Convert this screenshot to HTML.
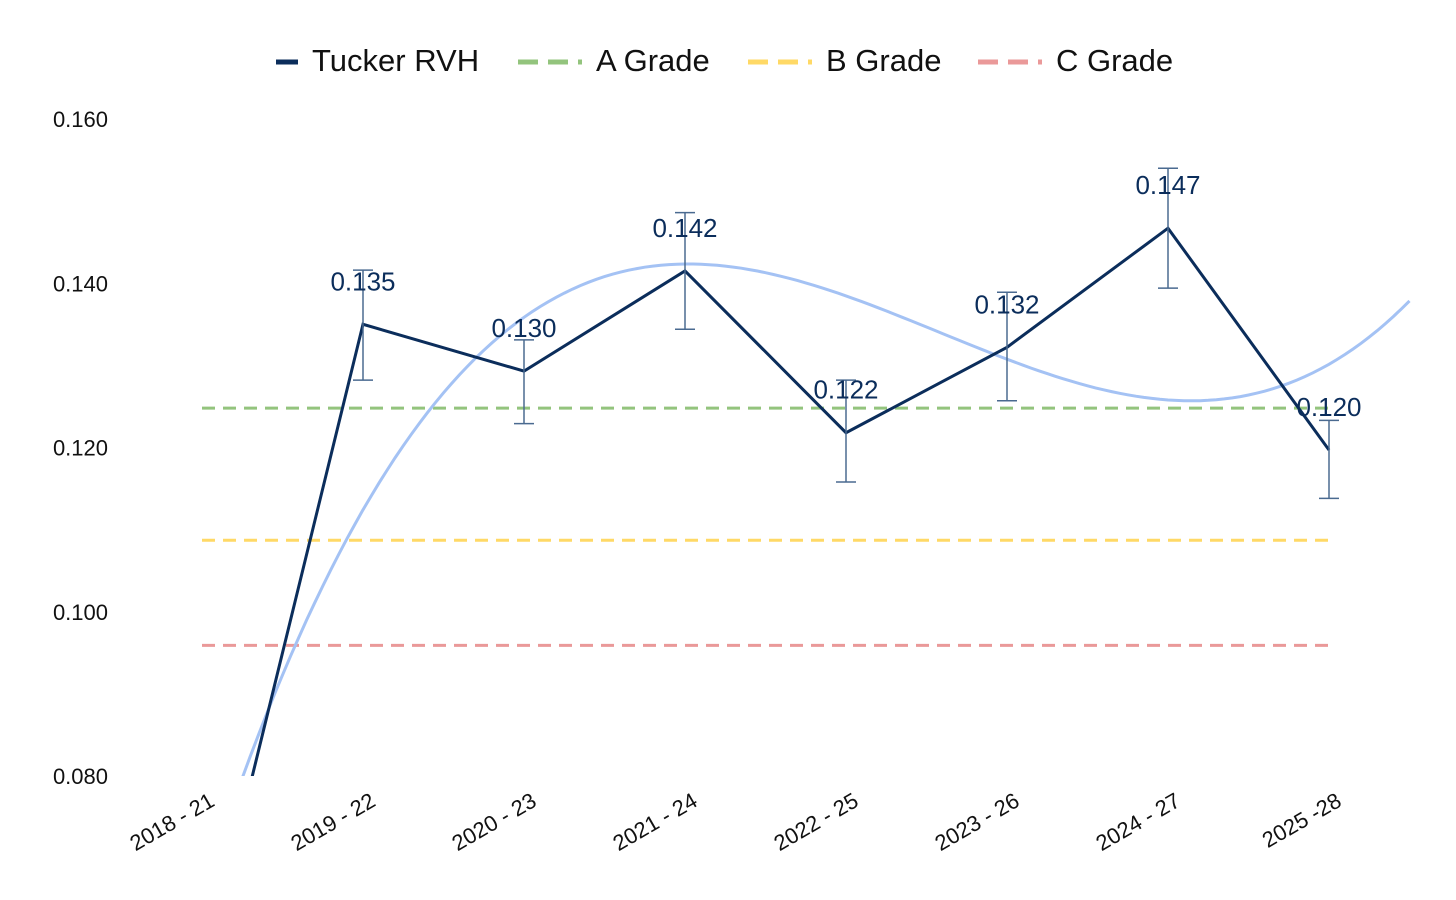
<!DOCTYPE html>
<html><head><meta charset="utf-8"><style>
html,body{margin:0;padding:0;background:#fff;overflow:hidden;width:1456px;height:900px;}
svg{display:block;font-family:"Liberation Sans",sans-serif;}
</style></head><body>
<svg id="chart" width="1456" height="900">
<g id="legend">
 <g><line x1="276" y1="62" x2="298" y2="62" stroke="#0b2d5b" stroke-width="5"/><text x="312" y="71" font-size="31" fill="#111">Tucker RVH</text></g>
 <g><line x1="518" y1="62" x2="582" y2="62" stroke="#93c47d" stroke-width="5" stroke-dasharray="20,10"/><text x="596" y="71" font-size="31" fill="#111">A Grade</text></g>
 <g><line x1="748" y1="62" x2="812" y2="62" stroke="#ffd966" stroke-width="5" stroke-dasharray="20,10"/><text x="826" y="71" font-size="31" fill="#111">B Grade</text></g>
 <g><line x1="978" y1="62" x2="1042" y2="62" stroke="#ea9999" stroke-width="5" stroke-dasharray="20,10"/><text x="1056" y="71" font-size="31" fill="#111">C Grade</text></g>
</g>
<g id="yaxis"></g>
<g id="xaxis"></g>
<defs><clipPath id="plotclip"><rect x="150" y="100" width="1300" height="676"/></clipPath></defs>
<g id="plot" clip-path="url(#plotclip)"></g>
<g id="labels"></g>
</svg>
<script>
const categories=["2018 - 21","2019 - 22","2020 - 23","2021 - 24","2022 - 25","2023 - 26","2024 - 27","2025 -28"];
const values=[0.055,0.135,0.1293,0.1415,0.1218,0.1322,0.1467,0.1197];
const valueLabels=["","0.135","0.130","0.142","0.122","0.132","0.147","0.120"];
const errHigh=[null,0.1416,0.1331,0.1486,0.1282,0.1389,0.1540,0.1233];
const errLow=[null,0.1282,0.1229,0.1344,0.1158,0.1257,0.1394,0.1138];
const gradeA=0.1248, gradeB=0.1087, gradeC=0.0959;
const yTicks=[0.080,0.100,0.120,0.140,0.160];
const yTickLabels=["0.080","0.100","0.120","0.140","0.160"];

const NS="http://www.w3.org/2000/svg";
const x=i=>202+i*161;
const y=v=>119+(0.160-v)/0.02*164.25;
function mk(tag,attrs,parent){const e=document.createElementNS(NS,tag);for(const k in attrs)e.setAttribute(k,attrs[k]);parent.appendChild(e);return e;}
const yaxis=document.getElementById('yaxis'),xaxis=document.getElementById('xaxis'),plot=document.getElementById('plot'),labels=document.getElementById('labels');
yTicks.forEach((t,i)=>{const e=mk('text',{x:108,y:y(t)+8,'text-anchor':'end','font-size':22,fill:'#111'},yaxis);e.textContent=yTickLabels[i];

});
categories.forEach((c,i)=>{const e=mk('text',{x:x(i)+14,y:805,'text-anchor':'end','font-size':22,fill:'#111',transform:`rotate(-30 ${x(i)+14} 805)`},xaxis);e.textContent=c;

});
[[gradeA,'#93c47d','a-grade-line'],[gradeB,'#ffd966','b-grade-line'],[gradeC,'#ea9999','c-grade-line']].forEach(g=>{const l=mk('line',{x1:x(0),x2:x(7),y1:y(g[0]),y2:y(g[0]),stroke:g[1],'stroke-width':3,'stroke-dasharray':'13,8'},plot);

});
(function(){const n=values.length;const A=[];for(let r=0;r<4;r++){A.push([]);for(let c=0;c<4;c++){let s=0;for(let i=0;i<n;i++)s+=Math.pow(i,r+c);A[r].push(s);}let s=0;for(let i=0;i<n;i++)s+=Math.pow(i,r)*values[i];A[r].push(s);}
for(let i=0;i<4;i++){let p=i;for(let k=i+1;k<4;k++)if(Math.abs(A[k][i])>Math.abs(A[p][i]))p=k;[A[i],A[p]]=[A[p],A[i]];for(let k=0;k<4;k++)if(k!==i){const f=A[k][i]/A[i][i];for(let j=i;j<5;j++)A[k][j]-=f*A[i][j];}}
const co=A.map((r,i)=>r[4]/r[i]);let d='';for(let t=0;t<=7.5;t+=0.05){const v=co[0]+co[1]*t+co[2]*t*t+co[3]*t*t*t;d+=(d?'L':'M')+x(t).toFixed(1)+','+y(v).toFixed(1);}
const p=mk('path',{d:d,fill:'none',stroke:'#a4c2f4','stroke-width':3},plot);

})();
const ln=mk('path',{d:values.map((v,i)=>(i?'L':'M')+x(i)+','+y(v)).join(''),fill:'none',stroke:'#0b2d5b','stroke-width':3},plot);


values.forEach((v,i)=>{if(errHigh[i]==null)return;const g=mk('g',{stroke:'#4a6a90','stroke-width':1.5},plot);


mk('line',{x1:x(i),x2:x(i),y1:y(errHigh[i]),y2:y(errLow[i])},g);mk('line',{x1:x(i)-10,x2:x(i)+10,y1:y(errHigh[i]),y2:y(errHigh[i])},g);mk('line',{x1:x(i)-10,x2:x(i)+10,y1:y(errLow[i]),y2:y(errLow[i])},g);
const t=mk('text',{x:x(i),y:y(v)-34,'text-anchor':'middle','font-size':26,fill:'#0b2d5b'},labels);t.textContent=valueLabels[i];

});
</script>
</body></html>
